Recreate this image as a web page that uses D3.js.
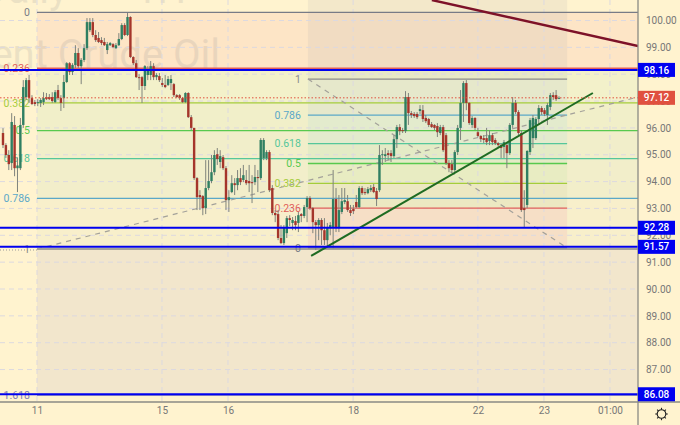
<!DOCTYPE html>
<html><head><meta charset="utf-8">
<script src="https://cdn.jsdelivr.net/npm/d3@7/dist/d3.min.js"></script>
<style>html,body{margin:0;padding:0;background:#fff3cf;overflow:hidden}svg{display:block}text{font-family:Roboto,"Open Sans",sans-serif}</style>
</head><body><svg id="c" width="680" height="425"></svg>
<script>
const opens=[95.81,95.36,94.99,94.69,96.11,94.50,94.50,96.11,97.15,97.78,97.11,96.96,96.93,96.93,96.96,97.15,97.15,97.15,96.96,97.41,97.11,97.11,97.71,98.41,98.08,98.34,98.79,98.30,98.53,98.97,99.64,99.94,99.46,99.35,99.27,99.20,98.90,99.08,99.12,98.97,99.08,99.31,99.83,99.46,100.13,98.64,98.41,97.89,97.89,97.56,97.97,97.97,98.30,97.89,97.93,97.67,97.60,97.60,97.67,97.63,97.22,97.22,97.11,96.96,97.30,96.40,96.00,94.13,93.50,93.46,93.01,93.76,94.02,94.35,95.02,94.73,94.91,94.50,93.31,93.61,93.94,93.87,94.13,94.06,94.06,94.02,93.98,93.98,94.17,94.13,94.88,94.88,95.10,93.76,92.83,92.79,91.90,91.71,92.08,92.64,92.46,92.53,92.46,92.79,92.72,93.05,93.39,93.01,92.49,92.38,92.57,92.19,91.82,92.27,92.31,93.35,92.27,92.87,93.24,93.27,92.94,92.98,93.24,93.05,93.76,93.61,93.57,93.68,93.80,93.65,93.68,94.99,94.95,95.06,95.06,94.95,95.58,96.03,95.92,95.88,97.15,96.55,96.52,96.52,96.63,96.66,96.37,96.33,96.14,96.11,96.07,95.81,96.03,95.73,94.69,94.65,94.43,95.10,96.00,96.93,97.67,96.93,96.11,96.37,95.84,95.70,95.62,95.62,95.51,95.73,95.55,95.43,95.36,95.29,95.36,95.06,96.11,96.93,96.59,95.81,93.01,93.13,95.10,95.62,95.62,96.33,96.74,96.66,96.48,96.78,97.22,97.22,97.11];
const highs=[95.99,95.43,95.17,96.55,96.44,94.90,96.37,97.78,97.86,97.97,97.22,97.04,97.07,97.11,97.33,97.30,97.26,97.33,97.41,97.60,97.22,97.97,98.45,98.45,98.41,99.08,98.97,98.60,99.12,100.09,100.09,100.09,99.64,99.57,99.38,99.35,99.20,99.20,99.16,99.16,99.53,99.90,99.90,100.28,100.16,98.67,98.53,98.00,97.93,98.34,98.30,98.49,98.41,98.04,98.04,97.86,97.97,97.93,97.97,97.67,97.26,97.26,97.15,97.33,97.33,96.48,96.00,94.17,93.68,93.50,94.80,94.80,94.99,95.17,95.25,95.17,94.99,94.58,93.68,94.24,94.13,94.43,94.50,94.62,94.43,94.62,94.24,94.62,94.43,95.62,95.62,95.17,95.17,93.87,92.94,92.94,92.38,92.38,92.72,92.75,92.68,92.72,92.87,92.83,93.13,93.46,93.46,93.05,92.57,92.64,92.64,92.64,92.46,92.49,94.43,93.76,93.50,93.76,93.76,93.50,93.13,93.13,93.50,93.83,93.83,93.76,93.80,93.87,93.91,93.76,95.36,95.17,95.25,95.17,95.17,95.73,96.11,96.14,96.00,97.37,97.30,96.63,96.59,96.59,96.85,96.85,96.48,96.37,96.22,96.14,96.18,96.11,96.11,95.81,94.80,94.80,95.17,96.11,97.41,97.74,97.78,96.96,96.44,96.40,96.00,95.73,95.73,96.00,95.92,95.81,95.62,95.47,95.43,95.55,95.43,96.18,97.15,97.04,96.66,95.92,93.68,95.17,96.37,96.48,96.40,96.85,96.81,96.74,96.93,97.30,97.33,97.41,97.18];
const lows=[95.25,94.88,94.43,94.43,94.20,93.61,94.43,96.00,97.04,96.93,96.85,96.81,96.81,96.78,96.85,97.04,97.04,96.93,96.93,97.04,96.63,96.74,97.67,97.97,97.97,98.23,98.23,97.63,98.45,98.90,99.57,99.38,99.20,99.16,99.08,99.05,98.75,99.05,98.97,98.94,99.05,99.27,99.42,99.42,98.60,98.34,97.86,97.41,96.93,97.41,97.78,97.78,97.78,97.78,97.71,97.52,97.48,97.56,97.41,97.15,97.11,97.04,96.93,96.93,96.37,95.92,94.06,92.94,92.94,92.75,92.79,93.68,93.94,94.24,94.62,94.50,94.43,92.94,92.87,93.57,93.50,93.68,93.87,93.98,93.87,93.61,93.20,93.87,93.61,94.06,94.80,94.80,93.61,92.75,92.49,91.82,91.67,91.64,91.90,92.34,92.19,92.19,92.12,92.49,92.64,92.49,92.94,92.08,91.45,91.82,91.64,91.64,91.56,92.00,91.52,92.12,92.12,92.79,93.16,92.87,92.72,92.79,93.01,93.01,93.50,93.50,93.53,93.61,93.57,93.09,93.61,94.62,94.73,94.80,94.73,94.88,95.25,95.73,95.81,95.81,96.11,96.37,96.37,96.33,96.52,96.22,96.18,96.03,96.00,95.92,95.66,95.73,95.10,94.62,94.35,94.32,94.35,94.99,95.55,96.22,96.66,96.11,96.00,95.92,95.66,95.47,95.43,95.36,95.36,95.36,95.36,95.25,94.88,94.88,94.50,94.99,96.00,96.52,95.73,92.87,92.31,93.01,94.99,95.25,95.55,96.11,96.48,96.44,96.11,96.66,97.04,97.00,97.07];
const closes=[95.36,94.99,94.65,96.22,94.50,94.60,96.11,97.52,97.78,97.11,96.89,96.89,96.96,97.04,97.11,97.07,97.07,97.00,97.33,97.11,96.93,97.71,98.41,98.08,98.34,98.79,98.30,98.53,98.97,99.94,99.94,99.46,99.27,99.20,99.16,99.08,99.12,99.16,99.01,99.08,99.31,99.83,99.46,100.13,98.64,98.41,97.89,97.86,97.56,98.30,98.19,98.30,97.89,97.97,97.78,97.60,97.52,97.82,97.82,97.22,97.15,97.11,96.96,97.30,96.40,96.00,94.13,93.42,93.42,93.01,93.76,94.02,94.35,94.99,94.84,94.95,94.50,93.31,93.42,93.94,93.87,94.13,93.98,94.24,93.94,93.94,93.94,94.17,94.13,95.55,95.55,95.10,93.68,92.83,92.75,91.90,91.71,92.31,92.64,92.57,92.57,92.38,92.75,92.72,93.05,93.39,93.01,92.49,92.38,92.57,92.19,91.82,92.31,92.38,93.35,92.27,92.94,93.27,93.31,92.94,92.83,92.90,93.05,93.76,93.57,93.57,93.72,93.76,93.61,93.35,94.99,95.02,95.02,94.99,94.95,95.58,96.03,95.88,95.88,97.15,96.55,96.48,96.44,96.40,96.70,96.33,96.25,96.11,96.03,96.00,95.84,96.03,95.17,94.69,94.50,94.43,95.10,96.00,96.93,97.67,96.93,96.18,96.37,96.00,95.70,95.58,95.55,95.47,95.73,95.47,95.43,95.36,95.25,95.47,95.06,96.11,96.93,96.59,95.81,92.94,92.94,95.14,96.29,96.37,96.33,96.74,96.59,96.52,96.85,97.22,97.15,97.07,97.12];
const priceTicks=[100,99,98,97,96,95,94,93,92,91,90,89,88,87];
const tickLabels=["11","15","16","18","22","23","01:00"];
const tickBars=[11.74,54.9,77.7,120.9,164,186.8,209.6];
const levels=[0,0.236,0.382,0.5,0.618,0.786,1];
const levelColors=["#787b86","#e0605a","#a4cc3c","#58c94e","#55c79a","#5aa8c8","#8a8a8a"];
const bands1=["#fde5c6","#f3f1ca","#f1efc9","#f1eeca","#f2eeca","#f8efcb"];
const bands2=["#f6dfc6","#ece8c2","#e8ecc2","#e4ebc6","#e3ebcd","#e6e8cb"];
const fibA={p0:100.30,p1:91.49,ext:1.618};
const fibB={p0:91.53,p1:97.82};
const priceLines=[98.16,92.28,91.57,86.08];
const lastPrice=97.12;
const trendGreen=[[106.4,91.23],[203.7,97.30]];
const trendMaroon=[[148.1,100.76],[219.3,99.05]];
const diagA=[[11.74,91.49],[219.3,97.15]];
const diagB=[[105.3,97.82],[194.8,91.53]];

const W=680,H=425,PR=638,PB=402;
const svg=d3.select("#c");
const x=d3.scaleLinear().domain([0,192]).range([3,559]);
const y=d3.scaleLinear().domain([100,90]).range([20.5,289]);
const pt=d3.line().x(d=>x(d[0])).y(d=>y(d[1]));
svg.append("defs").append("clipPath").attr("id","p").append("rect").attr("width",PR).attr("height",PB);
const plot=svg.append("g").attr("clip-path","url(#p)");
const xA=x(tickBars[0]), xB0=x(diagB[0][0]), xB1=x(diagB[1][0]);
const la=l=>fibA.p0+(fibA.p1-fibA.p0)*l;
levels.slice(0,-1).forEach((l,i)=>plot.append("rect").attr("x",xA).attr("width",PR-xA).attr("y",y(la(l))).attr("height",y(la(levels[i+1]))-y(la(l))).attr("fill",bands1[i]));
plot.append("rect").attr("x",xA).attr("width",PR-xA).attr("y",y(la(1))).attr("height",y(la(fibA.ext))-y(la(1))).attr("fill","#f2e6cc");
plot.append("rect").attr("x",xB0).attr("width",xB1-xB0).attr("y",0).attr("height",y(fibB.p1)).attr("fill","#5a6a90").attr("opacity",0.075);
const lb=l=>fibB.p0+(fibB.p1-fibB.p0)*l;
levels.slice(0,-1).forEach((l,i)=>plot.append("rect").attr("x",xB0).attr("width",xB1-xB0).attr("y",y(lb(levels[i+1]))).attr("height",y(lb(l))-y(lb(levels[i+1]))).attr("fill",bands2[i]));
// watermark
const wm=(xe,yb,t)=>plot.append("text").attr("x",xe).attr("y",yb).attr("text-anchor","end").attr("font-size",40).attr("fill","#787b86").attr("opacity",0.14).text(t);
wm(220,68,"Brent Crude Oil");
wm(68,3,"Daily");
wm(186,3,"1H");
// grid
const grid=plot.append("g").attr("stroke","#dcd9df").attr("stroke-dasharray","5 4").attr("stroke-width",1);
priceTicks.forEach(p=>grid.append("line").attr("x1",0).attr("x2",PR).attr("y1",y(p)).attr("y2",y(p)));
tickBars.forEach(b=>grid.append("line").attr("x1",x(b)).attr("x2",x(b)).attr("y1",0).attr("y2",PB));
// fib lines
levels.forEach((l,i)=>{
 plot.append("line").attr("x1",xA).attr("x2",PR).attr("y1",y(la(l))).attr("y2",y(la(l))).attr("stroke",levelColors[i]).attr("stroke-width",1.3);
 plot.append("line").attr("x1",xB0).attr("x2",xB1).attr("y1",y(lb(l))).attr("y2",y(lb(l))).attr("stroke",levelColors[l==0?6:i]).attr("stroke-width",1.3);
});
plot.append("line").attr("x1",xA).attr("x2",PR).attr("y1",y(la(fibA.ext))).attr("y2",y(la(fibA.ext))).attr("stroke","#7c78b8").attr("stroke-width",1.3);
plot.append("line").attr("x1",0).attr("x2",xA).attr("y1",y(la(1))+1).attr("y2",y(la(1))+1).attr("stroke","#999").attr("stroke-dasharray","1 2");
// fib labels
const lab=(x0,p,t,c)=>plot.append("text").attr("x",x0).attr("y",y(p)).attr("dy","0.36em").attr("text-anchor","end").attr("font-size",10.5).attr("fill",c).text(t);
levels.forEach((l,i)=>{lab(xA-7,la(l),String(l),levelColors[i]);lab(xB0-7,lb(l),String(l),levelColors[i]);});
lab(xA-7,la(fibA.ext),"1.618","#7c78b8");
// diagonals
[diagA,diagB].forEach(d=>plot.append("path").attr("d",pt(d)).attr("fill","none").attr("stroke","#a3a19a").attr("stroke-width",1.2).attr("stroke-dasharray","5 5"));
// candles
const cg=plot.append("g");
opens.forEach((o,i)=>{
 const c=closes[i],up=c>=o,X=x(i);
 cg.append("line").attr("x1",X).attr("x2",X).attr("y1",y(highs[i])).attr("y2",y(lows[i])).attr("stroke","#7f837c").attr("stroke-width",1);
 const t=y(Math.max(o,c)),b=y(Math.min(o,c));
 cg.append("rect").attr("x",X-1.2).attr("width",2.4).attr("y",t).attr("height",Math.max(1,b-t)).attr("fill",up?"#2f7f62":"#a5352b");
});
// lines on top
plot.append("path").attr("d",pt(trendGreen)).attr("stroke","#1f6b22").attr("stroke-width",2).attr("fill","none");
plot.append("path").attr("d",pt(trendMaroon)).attr("stroke","#7d1128").attr("stroke-width",2.5).attr("fill","none");
plot.append("line").attr("x1",0).attr("x2",PR).attr("y1",y(lastPrice)).attr("y2",y(lastPrice)).attr("stroke","#e0503f").attr("stroke-dasharray","1.5 2");
priceLines.forEach(p=>plot.append("line").attr("x1",0).attr("x2",PR).attr("y1",y(p)).attr("y2",y(p)).attr("stroke","#0000f0").attr("stroke-width",2));
// frame
svg.append("line").attr("x1",PR).attr("x2",PR).attr("y1",0).attr("y2",H).attr("stroke","#8a8a84").attr("stroke-width",1.3);
svg.append("line").attr("x1",0).attr("x2",W).attr("y1",PB).attr("y2",PB).attr("stroke","#8a8a84").attr("stroke-width",1.3);
// axes
const ya=d3.axisRight(y).tickValues(priceTicks).tickFormat(d3.format(".2f")).tickSize(0).tickPadding(8);
const yg=svg.append("g").attr("transform",`translate(${PR},0)`).call(ya);
yg.select(".domain").remove();
yg.selectAll("text").attr("font-size",10).attr("font-family","Roboto").attr("fill","#777");
const xa=d3.axisBottom(x).tickValues(tickBars).tickFormat((d,i)=>tickLabels[i]).tickSize(0).tickPadding(5);
const xg=svg.append("g").attr("transform",`translate(0,${PB})`).call(xa);
xg.select(".domain").remove();
xg.selectAll("text").attr("font-size",10).attr("font-family","Roboto").attr("fill","#777");
// badges
const badge=(p,c)=>{const g=svg.append("g");
 g.append("rect").attr("x",PR).attr("y",y(p)-7).attr("width",37).attr("height",14).attr("fill",c);
 g.append("text").attr("x",PR+18.5).attr("y",y(p)).attr("dy","0.36em").attr("text-anchor","middle").attr("font-size",10).attr("font-weight",500).attr("fill","#fff").text(p.toFixed(2));};
priceLines.forEach(p=>badge(p,"#0000f0"));
badge(lastPrice,"#e0503f");
// gear
const gear=svg.append("g").attr("transform","translate(661.5,414)").attr("stroke","#222").attr("fill","none");
gear.append("circle").attr("r",4.3).attr("stroke-width",1.1);
d3.range(8).forEach(i=>{const a=i*Math.PI/4;gear.append("line").attr("x1",4.3*Math.cos(a)).attr("y1",4.3*Math.sin(a)).attr("x2",6.2*Math.cos(a)).attr("y2",6.2*Math.sin(a)).attr("stroke-width",1.1);});
</script></body></html>
